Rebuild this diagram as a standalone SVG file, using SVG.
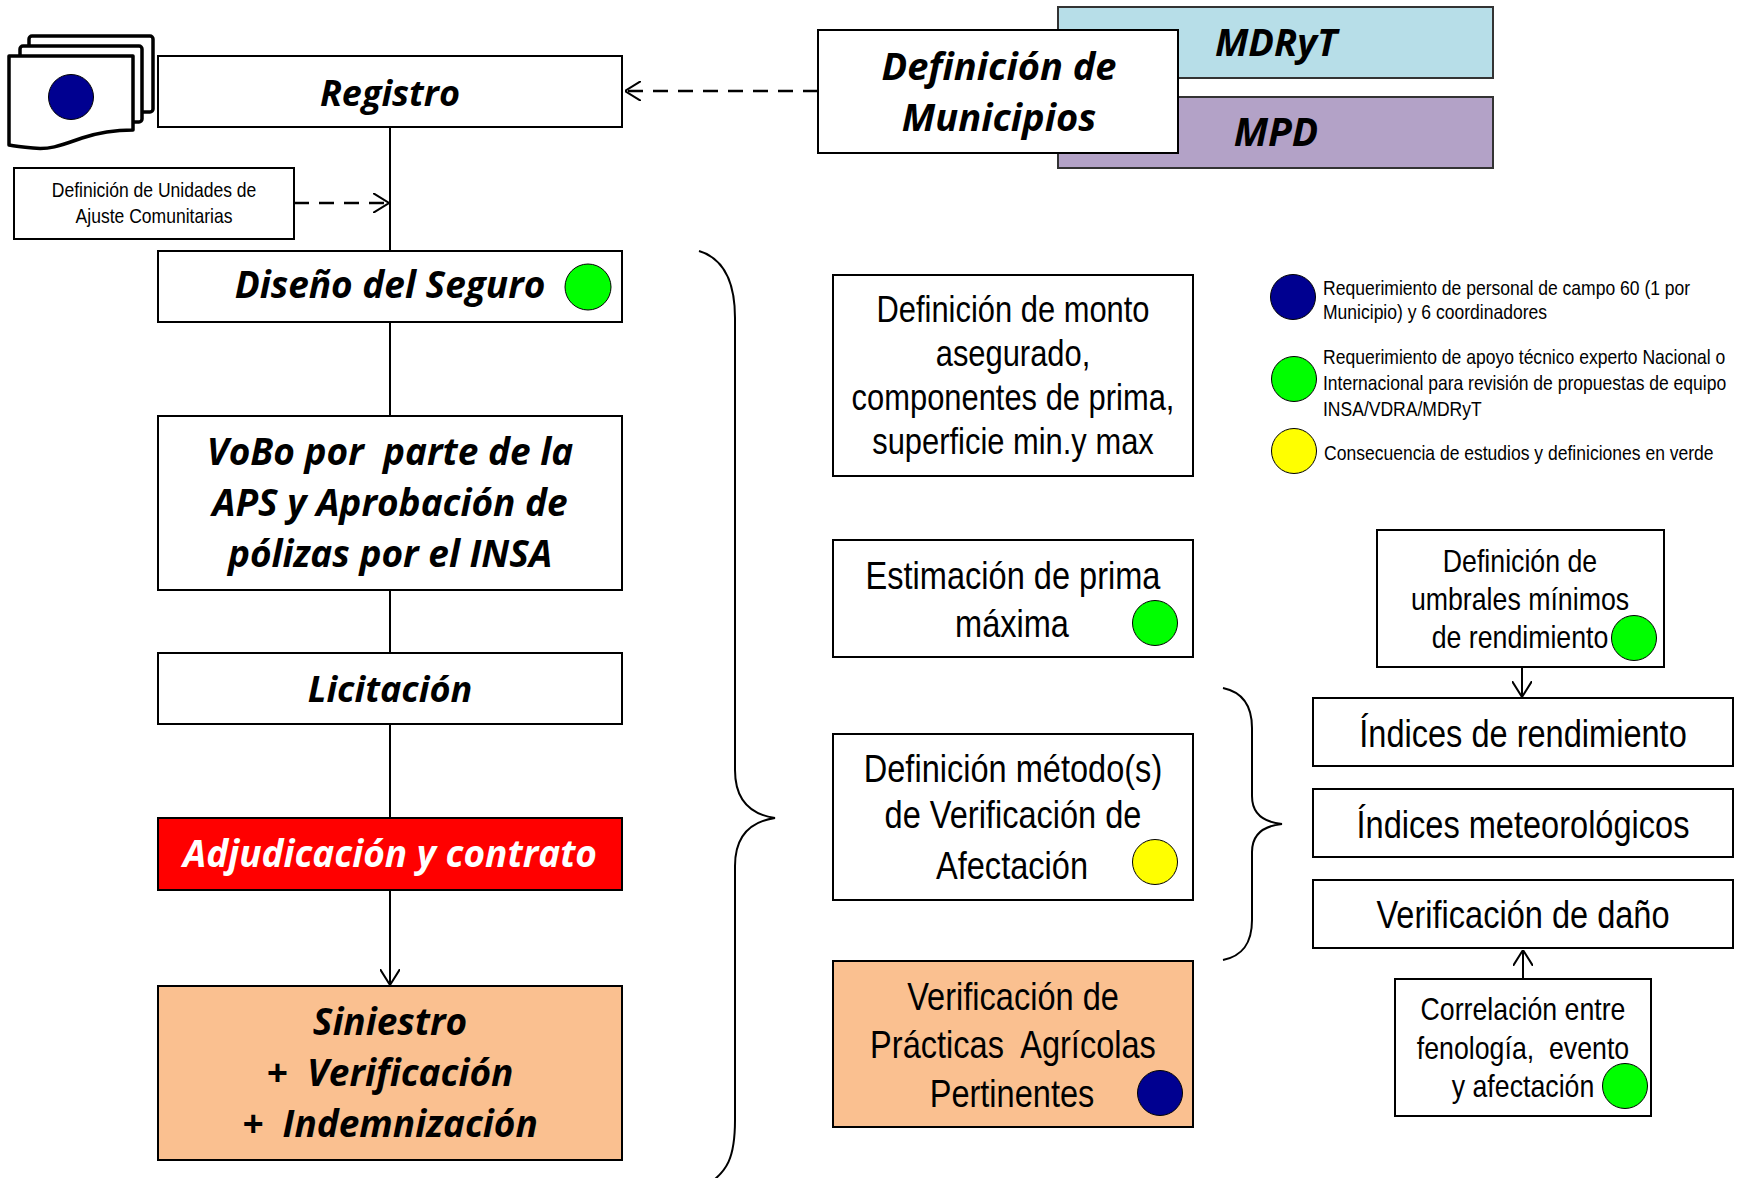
<svg xmlns="http://www.w3.org/2000/svg" width="1745" height="1178" viewBox="0 0 1745 1178">
<defs>
<style>
.box{fill:#ffffff;stroke:#000000;stroke-width:2}
.bi{font-family:"Open Sans",Lato,sans-serif;font-weight:bold;font-style:italic;fill:#000;text-anchor:middle}
.nar{font-family:"Liberation Sans",Arial,sans-serif;fill:#000}
.c{text-anchor:middle}
.pre{white-space:pre}
.line{fill:none;stroke:#000;stroke-width:2}
.dash{fill:none;stroke:#000;stroke-width:2.5;stroke-dasharray:15 10}
.navy{fill:#000090;stroke:#000;stroke-width:1}
.green{fill:#00ff00;stroke:#000;stroke-width:1}
.yellow{fill:#ffff00;stroke:#000;stroke-width:1}
</style>
<marker id="arr" viewBox="0 0 16 20" refX="16" refY="10" markerWidth="16" markerHeight="20" markerUnits="userSpaceOnUse" orient="auto">
<path d="M0,0 L16,10 L0,20" fill="none" stroke="#000" stroke-width="2"/>
</marker>
</defs>
<rect width="1745" height="1178" fill="#ffffff"/>

<g id="connectors">
<line class="line" x1="390" y1="127" x2="390" y2="251"/>
<line class="line" x1="390" y1="322" x2="390" y2="416"/>
<line class="line" x1="390" y1="590" x2="390" y2="653"/>
<line class="line" x1="390" y1="724" x2="390" y2="818"/>
<line class="line" x1="390" y1="890" x2="390" y2="985" marker-end="url(#arr)"/>
<line class="dash" x1="294" y1="203" x2="389" y2="203" marker-end="url(#arr)"/>
<line class="dash" x1="818" y1="91" x2="625" y2="91" marker-end="url(#arr)"/>
<line class="line" x1="1522" y1="667" x2="1522" y2="697" marker-end="url(#arr)"/>
<line class="line" x1="1523" y1="979" x2="1523" y2="950" marker-end="url(#arr)"/>
<path class="line" d="M699 251 C722 258 735 278 735 318 L735 770 C735 798 748 814 775 818 C748 822 735 838 735 866 L735 1120 C735 1158 727 1172 707 1185"/>
<path class="line" d="M1223 688 C1242 692 1252 706 1252 728 L1252 796 C1252 812 1262 822 1282 824 C1262 826 1252 836 1252 852 L1252 920 C1252 944 1242 956 1223 960"/>
</g>

<g id="doc-icon">
<rect x="29" y="36" width="124" height="76" rx="3" fill="#fff" stroke="#000" stroke-width="3.5"/>
<rect x="20" y="46" width="122" height="76" rx="3" fill="#fff" stroke="#000" stroke-width="3.5"/>
<path d="M9 56 H133 V130 C112 130 97 133 82 138 C62 145 50 150 33 148 C22 147 14 146 9 145 Z" fill="#fff" stroke="#000" stroke-width="3.5" stroke-linejoin="round"/>
<circle class="navy" cx="71" cy="97" r="22.5"/>
</g>

<g id="registro">
<rect class="box" x="158" y="56" width="464" height="71"/>
<text class="bi" x="390" y="106" font-size="36">Registro</text>
</g>

<g id="unidades">
<rect class="box" x="14" y="168" width="280" height="71"/>
<text class="nar c" transform="translate(154 197) scale(0.835 1)" font-size="21">Definición de Unidades de</text>
<text class="nar c" transform="translate(154 223) scale(0.835 1)" font-size="21">Ajuste Comunitarias</text>
</g>

<g id="diseno">
<rect class="box" x="158" y="251" width="464" height="71"/>
<text class="bi" x="390" y="298" font-size="37">Diseño del Seguro</text>
<circle class="green" cx="588" cy="287" r="23"/>
</g>

<g id="vobo">
<rect class="box" x="158" y="416" width="464" height="174"/>
<text class="bi pre" x="390" y="465" font-size="37">VoBo por  parte de la</text>
<text class="bi" x="390" y="516" font-size="37">APS y Aprobación de</text>
<text class="bi" x="390" y="567" font-size="37">pólizas por el INSA</text>
</g>

<g id="licitacion">
<rect class="box" x="158" y="653" width="464" height="71"/>
<text class="bi" x="390" y="702" font-size="36">Licitación</text>
</g>

<g id="adjudicacion">
<rect x="158" y="818" width="464" height="72" fill="#ff0000" stroke="#000" stroke-width="2"/>
<text class="bi" x="390" y="867" font-size="37" style="fill:#ffffff">Adjudicación y contrato</text>
</g>

<g id="siniestro">
<rect x="158" y="986" width="464" height="174" fill="#fac090" stroke="#000" stroke-width="2"/>
<text class="bi" x="390" y="1035" font-size="37">Siniestro</text>
<text class="bi pre" x="390" y="1086" font-size="37">+  Verificación</text>
<text class="bi pre" x="390" y="1137" font-size="37">+  Indemnización</text>
</g>

<g id="mdryt">
<rect x="1058" y="7" width="435" height="71" fill="#b7dee8" stroke="#333" stroke-width="2"/>
<text class="bi" x="1276" y="56" font-size="38">MDRyT</text>
</g>

<g id="mpd">
<rect x="1058" y="97" width="435" height="71" fill="#b3a2c7" stroke="#333" stroke-width="2"/>
<text class="bi" x="1276" y="146" font-size="39">MPD</text>
</g>

<g id="municipios">
<rect class="box" x="818" y="30" width="360" height="123"/>
<text class="bi" x="999" y="80" font-size="38">Definición de</text>
<text class="bi" x="999" y="131" font-size="38">Municipios</text>
</g>

<g id="monto">
<rect class="box" x="833" y="275" width="360" height="201"/>
<text class="nar c" transform="translate(1013 322) scale(0.835 1)" font-size="37">Definición de monto</text>
<text class="nar c" transform="translate(1013 366) scale(0.835 1)" font-size="37">asegurado,</text>
<text class="nar c" transform="translate(1013 410) scale(0.835 1)" font-size="37">componentes de prima,</text>
<text class="nar c" transform="translate(1013 454) scale(0.835 1)" font-size="37">superficie min.y max</text>
</g>

<g id="estimacion">
<rect class="box" x="833" y="540" width="360" height="117"/>
<text class="nar c" transform="translate(1013 589) scale(0.835 1)" font-size="39">Estimación de prima</text>
<text class="nar c" transform="translate(1012 637) scale(0.835 1)" font-size="39">máxima</text>
<circle class="green" cx="1155" cy="623" r="22.5"/>
</g>

<g id="metodo">
<rect class="box" x="833" y="734" width="360" height="166"/>
<text class="nar c" transform="translate(1013 782) scale(0.835 1)" font-size="39">Definición método(s)</text>
<text class="nar c" transform="translate(1013 828) scale(0.835 1)" font-size="39">de Verificación de</text>
<text class="nar c" transform="translate(1012 879) scale(0.835 1)" font-size="39">Afectación</text>
<circle class="yellow" cx="1155" cy="862" r="22.5"/>
</g>

<g id="practicas">
<rect x="833" y="961" width="360" height="166" fill="#fac090" stroke="#000" stroke-width="2"/>
<text class="nar c" transform="translate(1013 1010) scale(0.835 1)" font-size="39">Verificación de</text>
<text class="nar c pre" transform="translate(1013 1058) scale(0.835 1)" font-size="39">Prácticas  Agrícolas</text>
<text class="nar c" transform="translate(1012 1107) scale(0.835 1)" font-size="39">Pertinentes</text>
<circle class="navy" cx="1160" cy="1093" r="22.5"/>
</g>

<g id="legend">
<circle class="navy" cx="1293" cy="297" r="22.5"/>
<text class="nar" transform="translate(1323 295) scale(0.835 1)" font-size="21">Requerimiento de personal de campo 60 (1 por</text>
<text class="nar" transform="translate(1323 319) scale(0.835 1)" font-size="21">Municipio) y 6 coordinadores</text>
<circle class="green" cx="1294" cy="379" r="22.5"/>
<text class="nar" transform="translate(1323 364) scale(0.835 1)" font-size="21">Requerimiento de apoyo técnico experto Nacional o</text>
<text class="nar" transform="translate(1323 390) scale(0.835 1)" font-size="21">Internacional para revisión de propuestas de equipo</text>
<text class="nar" transform="translate(1323 416) scale(0.835 1)" font-size="21">INSA/VDRA/MDRyT</text>
<circle class="yellow" cx="1294" cy="451" r="22.5"/>
<text class="nar" transform="translate(1324 460) scale(0.835 1)" font-size="21">Consecuencia de estudios y definiciones en verde</text>
</g>

<g id="umbrales">
<rect class="box" x="1377" y="530" width="287" height="137"/>
<text class="nar c" transform="translate(1520 572) scale(0.835 1)" font-size="32">Definición de</text>
<text class="nar c" transform="translate(1520 610) scale(0.835 1)" font-size="32">umbrales mínimos</text>
<text class="nar c" transform="translate(1520 648) scale(0.835 1)" font-size="32">de rendimiento</text>
<circle class="green" cx="1634" cy="638" r="22.5"/>
</g>

<g id="ind-rendimiento">
<rect class="box" x="1313" y="698" width="420" height="68"/>
<text class="nar c" transform="translate(1523 747) scale(0.835 1)" font-size="39">Índices de rendimiento</text>
</g>

<g id="ind-meteo">
<rect class="box" x="1313" y="789" width="420" height="68"/>
<text class="nar c" transform="translate(1523 838) scale(0.835 1)" font-size="39">Índices meteorológicos</text>
</g>

<g id="verif-dano">
<rect class="box" x="1313" y="880" width="420" height="68"/>
<text class="nar c" transform="translate(1523 928) scale(0.835 1)" font-size="39">Verificación de daño</text>
</g>

<g id="correlacion">
<rect class="box" x="1395" y="979" width="256" height="137"/>
<text class="nar c" transform="translate(1523 1020) scale(0.835 1)" font-size="32">Correlación entre</text>
<text class="nar c pre" transform="translate(1523 1059) scale(0.835 1)" font-size="32">fenología,  evento</text>
<text class="nar c" transform="translate(1523 1097) scale(0.835 1)" font-size="32">y afectación</text>
<circle class="green" cx="1625" cy="1086" r="22.5"/>
</g>
</svg>
